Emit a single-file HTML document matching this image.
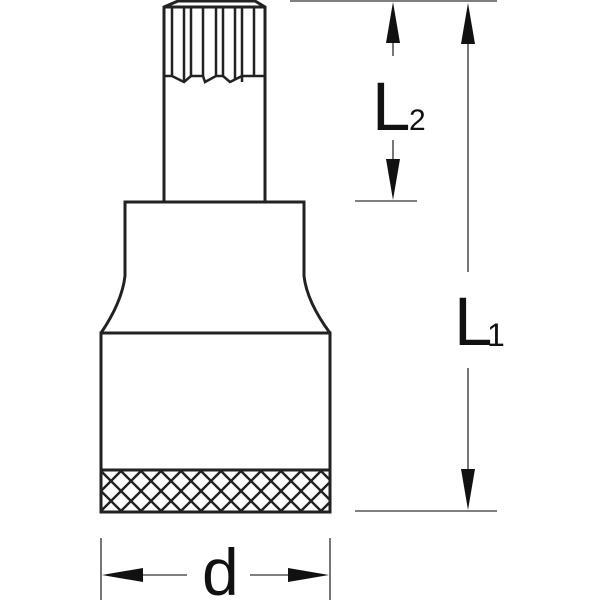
<!DOCTYPE html>
<html><head><style>html,body{margin:0;padding:0;background:#fff;width:600px;height:600px;overflow:hidden}</style></head>
<body>
<svg width="600" height="600" viewBox="0 0 600 600" xmlns="http://www.w3.org/2000/svg">
<defs>
<pattern id="k" width="20" height="20" patternUnits="userSpaceOnUse" x="101" y="471">
<path d="M0,0 L20,20 M20,0 L0,20 M-10,10 L0,20 M10,-10 L20,0 M10,30 L20,20 M30,10 L20,0 M0,0 L-10,10 M20,20 L30,10" stroke="#222" stroke-width="2.4" fill="none"/>
</pattern>
<clipPath id="kc"><rect x="101" y="470" width="229" height="42"/></clipPath>
</defs>
<g stroke="#222" stroke-width="3" fill="none" stroke-linejoin="miter">
<path d="M164,202 L164,7 L178,1 L255,1 L265,7 L265,202"/>
<line x1="164" y1="7" x2="265" y2="7"/>
<path d="M164,76 L172,76 L184,82 L191,76 L203,76 L205,82 L216,76 L223,76 L230,82 L242,76 L254,76 L265,76" stroke-width="2.5"/>
<g stroke-width="2.5">
<line x1="172" y1="7" x2="172" y2="76"/><line x1="184" y1="7" x2="184" y2="82"/>
<line x1="191" y1="7" x2="191" y2="76"/><line x1="203" y1="7" x2="203" y2="76"/>
<line x1="216" y1="7" x2="216" y2="76"/><line x1="223" y1="7" x2="223" y2="76"/>
<line x1="235" y1="7" x2="235" y2="79"/><line x1="242" y1="7" x2="242" y2="82"/>
<line x1="254" y1="7" x2="254" y2="76"/>
</g>
<path d="M101,333 Q122,302 125,276 L125,202 L304,202 L304,276 Q307,302 330,333"/>
<rect x="101" y="333" width="229" height="179"/>
<line x1="101" y1="470" x2="330" y2="470"/>
</g>
<rect x="101" y="470" width="229" height="42" fill="url(#k)" clip-path="url(#kc)"/>
<rect x="101" y="470" width="229" height="42" fill="none" stroke="#222" stroke-width="3"/>
<g stroke="#555" stroke-width="1.6">
<line x1="290" y1="1" x2="497" y2="1"/>
<line x1="355" y1="201" x2="417" y2="201"/>
<line x1="355" y1="511" x2="497" y2="511"/>
<line x1="393" y1="40" x2="393" y2="56"/>
<line x1="393" y1="140" x2="393" y2="165"/>
<line x1="468" y1="40" x2="468" y2="272"/>
<line x1="468" y1="368" x2="468" y2="475"/>
<line x1="101" y1="538" x2="101" y2="600"/>
<line x1="330" y1="538" x2="330" y2="600"/>
<line x1="140" y1="575" x2="187" y2="575"/>
<line x1="250" y1="575" x2="292" y2="575"/>
</g>
<g fill="#111">
<polygon points="393,2 386,43 400,43"/>
<polygon points="393,200 386,159 400,159"/>
<polygon points="468,3 461,44 475,44"/>
<polygon points="468,510 461,469 475,469"/>
<polygon points="102,575 143,568 143,582"/>
<polygon points="329,575 288,568 288,582"/>
</g>
<g font-family="Liberation Sans, sans-serif" fill="#111">
<text x="372" y="130" font-size="69">L</text>
<text x="409" y="130" font-size="30">2</text>
<text x="454" y="345" font-size="69">L</text>
<text x="487" y="346" font-size="32">1</text>
<text x="202" y="595" font-size="66">d</text>
</g>
</svg>
</body></html>
